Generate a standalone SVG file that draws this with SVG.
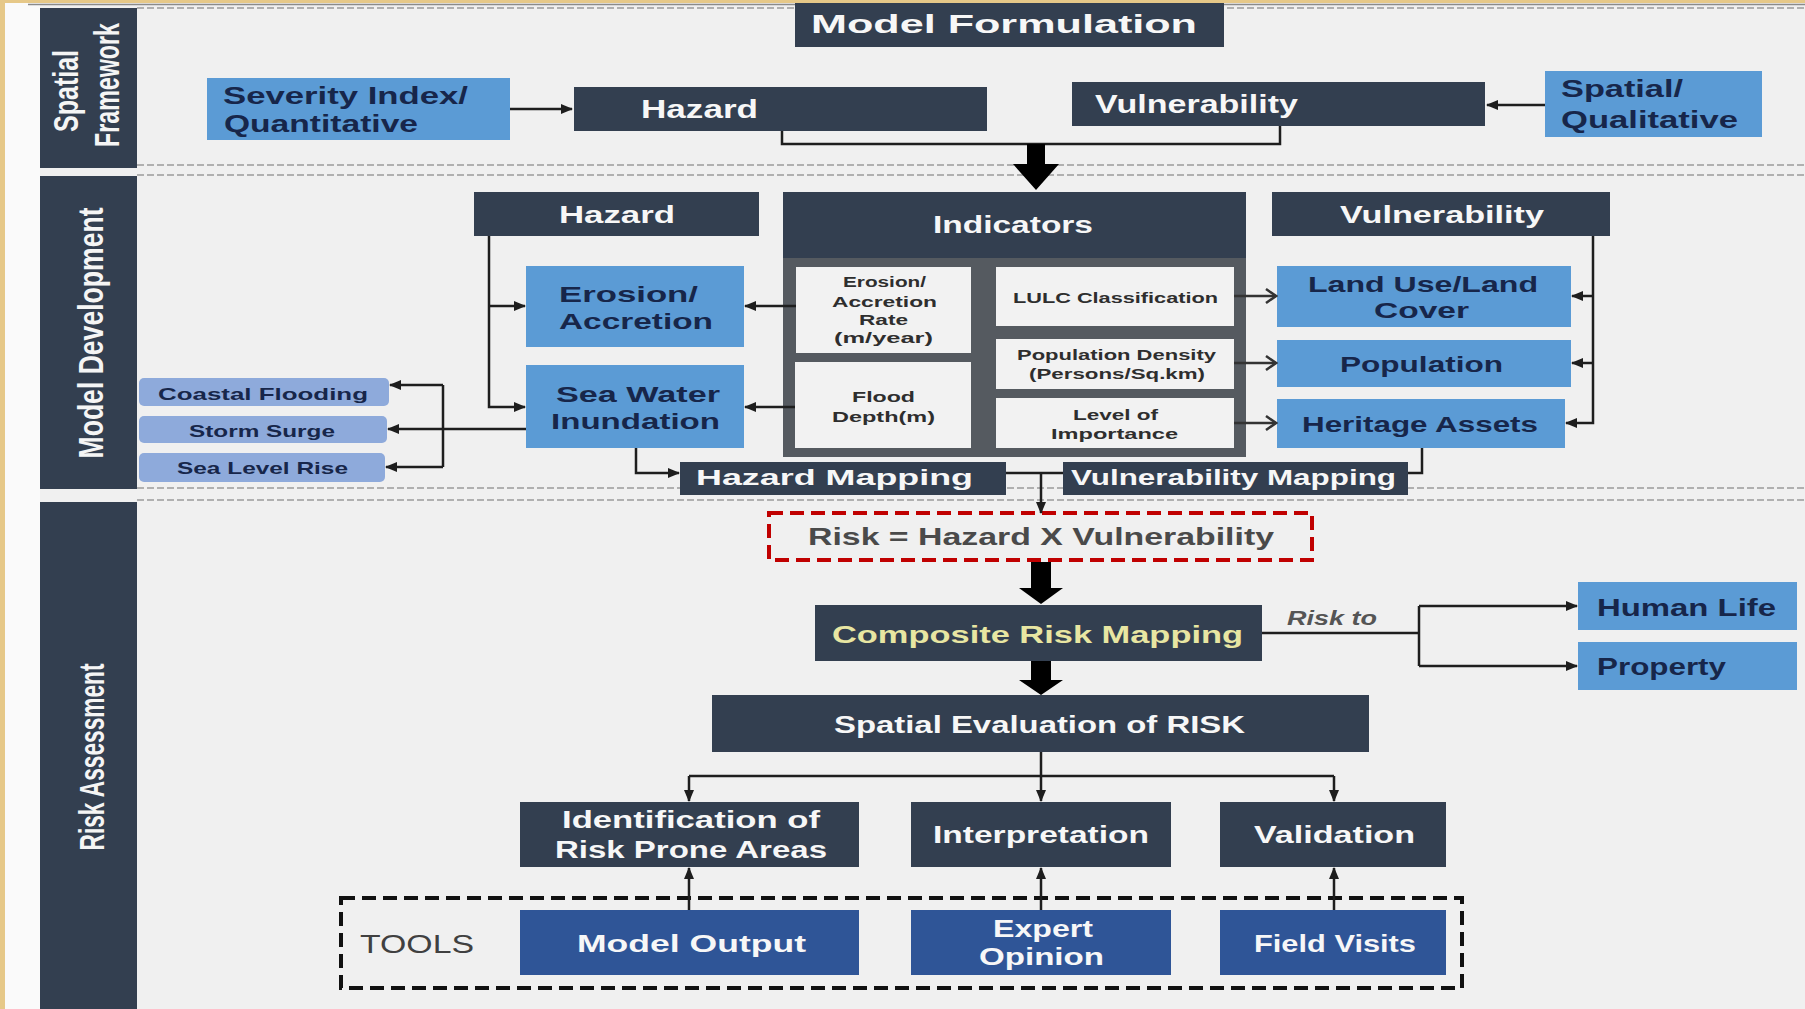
<svg xmlns="http://www.w3.org/2000/svg" width="1805" height="1009" viewBox="0 0 1805 1009">
<defs>
<style>
text{font-family:"Liberation Sans",Arial,sans-serif;font-weight:bold}
.dk{fill:#333f50}
.lb{fill:#5b9bd5}
.pw{fill:#8eaadb}
.tb{fill:#2f5597}
.cell{fill:#f2f2f2}
.w{fill:#f7f7f7}
.nv{fill:#17264a}
.gt{fill:#2e2e2e}
.sep{stroke:#9a9a9a;stroke-width:1.5;stroke-dasharray:7 3;fill:none}
.ln{stroke:#1e1e1e;stroke-width:2.5;fill:none}
.ar{stroke:#1e1e1e;stroke-width:2.5;fill:none;marker-end:url(#ah)}
.oa{stroke:#333;stroke-width:2.5;fill:none;marker-end:url(#oh)}
</style>
<marker id="ah" markerUnits="userSpaceOnUse" markerWidth="12" markerHeight="10" refX="11" refY="5" orient="auto">
<path d="M0,0 L12,5 L0,10 z" fill="#1e1e1e"/>
</marker>
<marker id="oh" markerUnits="userSpaceOnUse" markerWidth="14" markerHeight="16" refX="12" refY="8" orient="auto">
<path d="M2,1 L12,8 L2,15" fill="none" stroke="#333" stroke-width="2.5"/>
</marker>
</defs>

<rect x="0" y="0" width="1805" height="1009" fill="#f0f0f0"/>
<rect x="0" y="0" width="40" height="1009" fill="#fafafa"/>
<rect x="0" y="0" width="5" height="1009" fill="#e6c888"/>
<rect x="0" y="0" width="1805" height="3" fill="#e6c888"/>
<line x1="28" y1="4.5" x2="1805" y2="4.5" stroke="#8a8a8a" stroke-width="1.5"/>

<g id="separators">
<line class="sep" x1="137" y1="8" x2="1805" y2="8"/>
<line class="sep" x1="137" y1="165" x2="1805" y2="165"/>
<line class="sep" x1="137" y1="175" x2="1805" y2="175"/>
<line class="sep" x1="137" y1="488" x2="1805" y2="488"/>
<line class="sep" x1="137" y1="500" x2="1805" y2="500"/>
</g>

<g id="sidebar-spatial-framework">
<rect class="dk" x="40" y="8" width="97" height="160"/>
<text transform="translate(78,91) scale(1.5,1) rotate(-90)" font-size="23" fill="#f5f5f5" text-anchor="middle" textLength="82" lengthAdjust="spacingAndGlyphs">Spatial</text>
<text transform="translate(119,85) scale(1.5,1) rotate(-90)" font-size="23" fill="#f5f5f5" text-anchor="middle" textLength="124" lengthAdjust="spacingAndGlyphs">Framework</text>
</g>
<g id="sidebar-model-development">
<rect class="dk" x="40" y="176" width="97" height="313"/>
<text transform="translate(103,333) scale(1.5,1) rotate(-90)" font-size="24" fill="#f5f5f5" text-anchor="middle" textLength="251" lengthAdjust="spacingAndGlyphs">Model  Development</text>
</g>
<g id="sidebar-risk-assessment">
<rect class="dk" x="40" y="502" width="97" height="507"/>
<text transform="translate(104,757) scale(1.5,1) rotate(-90)" font-size="23" fill="#f5f5f5" text-anchor="middle" textLength="187" lengthAdjust="spacingAndGlyphs">Risk Assessment</text>
</g>

<g id="model-formulation">
<rect class="dk" x="795" y="3" width="429" height="44"/>
<text class="w" x="811" y="33" font-size="25" textLength="386" lengthAdjust="spacingAndGlyphs">Model Formulation</text>
</g>

<g id="severity-index">
<rect class="lb" x="207" y="78" width="303" height="62"/>
<text class="nv" x="223" y="104" font-size="24" textLength="245" lengthAdjust="spacingAndGlyphs">Severity Index/</text>
<text class="nv" x="224" y="132" font-size="24" textLength="194" lengthAdjust="spacingAndGlyphs">Quantitative</text>
</g>
<g id="hazard-top">
<rect class="dk" x="574" y="87" width="413" height="44"/>
<text class="w" x="641" y="118" font-size="25" textLength="117" lengthAdjust="spacingAndGlyphs">Hazard</text>
</g>
<g id="vulnerability-top">
<rect class="dk" x="1072" y="82" width="413" height="44"/>
<text class="w" x="1095" y="113" font-size="25" textLength="203" lengthAdjust="spacingAndGlyphs">Vulnerability</text>
</g>
<g id="spatial-qualitative">
<rect class="lb" x="1545" y="71" width="217" height="66"/>
<text class="nv" x="1561" y="97" font-size="24" textLength="122" lengthAdjust="spacingAndGlyphs">Spatial/</text>
<text class="nv" x="1561" y="128" font-size="24" textLength="177" lengthAdjust="spacingAndGlyphs">Qualitative</text>
</g>

<g id="hazard-header">
<rect class="dk" x="474" y="192" width="285" height="44"/>
<text class="w" x="559" y="223" font-size="23" textLength="116" lengthAdjust="spacingAndGlyphs">Hazard</text>
</g>
<g id="indicators">
<rect fill="#555a60" x="783" y="192" width="463" height="265"/>
<rect class="dk" x="783" y="192" width="463" height="66"/>
<text class="w" x="933" y="233" font-size="23" textLength="160" lengthAdjust="spacingAndGlyphs">Indicators</text>
<rect class="cell" x="796" y="267" width="175" height="86"/>
<text class="gt" x="843" y="287" font-size="14" textLength="83" lengthAdjust="spacingAndGlyphs">Erosion/</text>
<text class="gt" x="832" y="307" font-size="15" textLength="105" lengthAdjust="spacingAndGlyphs">Accretion</text>
<text class="gt" x="859" y="325" font-size="15" textLength="49" lengthAdjust="spacingAndGlyphs">Rate</text>
<text class="gt" x="834" y="343" font-size="15" textLength="99" lengthAdjust="spacingAndGlyphs">(m/year)</text>
<rect class="cell" x="795" y="362" width="176" height="86"/>
<text class="gt" x="852" y="402" font-size="15" textLength="63" lengthAdjust="spacingAndGlyphs">Flood</text>
<text class="gt" x="832" y="422" font-size="15" textLength="103" lengthAdjust="spacingAndGlyphs">Depth(m)</text>
<rect class="cell" x="996" y="267" width="238" height="59"/>
<text class="gt" x="1013" y="303" font-size="15" textLength="205" lengthAdjust="spacingAndGlyphs">LULC Classification</text>
<rect class="cell" x="996" y="339" width="238" height="50"/>
<text class="gt" x="1017" y="360" font-size="15" textLength="199" lengthAdjust="spacingAndGlyphs">Population Density</text>
<text class="gt" x="1029" y="379" font-size="15" textLength="176" lengthAdjust="spacingAndGlyphs">(Persons/Sq.km)</text>
<rect class="cell" x="996" y="398" width="238" height="50"/>
<text class="gt" x="1073" y="420" font-size="15" textLength="85" lengthAdjust="spacingAndGlyphs">Level of</text>
<text class="gt" x="1051" y="439" font-size="15" textLength="127" lengthAdjust="spacingAndGlyphs">Importance</text>
</g>
<g id="vulnerability-header">
<rect class="dk" x="1272" y="192" width="338" height="44"/>
<text class="w" x="1340" y="223" font-size="23" textLength="204" lengthAdjust="spacingAndGlyphs">Vulnerability</text>
</g>

<g id="erosion-accretion">
<rect class="lb" x="526" y="266" width="218" height="81"/>
<text class="nv" x="559" y="302" font-size="22" textLength="139" lengthAdjust="spacingAndGlyphs">Erosion/</text>
<text class="nv" x="559" y="329" font-size="22" textLength="154" lengthAdjust="spacingAndGlyphs">Accretion</text>
</g>
<g id="sea-water-inundation">
<rect class="lb" x="526" y="365" width="218" height="83"/>
<text class="nv" x="556" y="402" font-size="22" textLength="164" lengthAdjust="spacingAndGlyphs">Sea Water</text>
<text class="nv" x="551" y="429" font-size="22" textLength="169" lengthAdjust="spacingAndGlyphs">Inundation</text>
</g>
<g id="coastal-flooding">
<rect class="pw" x="139" y="378" width="250" height="28" rx="5"/>
<text class="nv" x="158" y="400" font-size="17" textLength="210" lengthAdjust="spacingAndGlyphs">Coastal Flooding</text>
</g>
<g id="storm-surge">
<rect class="pw" x="139" y="416" width="248" height="27" rx="5"/>
<text class="nv" x="189" y="437" font-size="17" textLength="146" lengthAdjust="spacingAndGlyphs">Storm Surge</text>
</g>
<g id="sea-level-rise">
<rect class="pw" x="139" y="453" width="246" height="29" rx="5"/>
<text class="nv" x="177" y="474" font-size="17" textLength="171" lengthAdjust="spacingAndGlyphs">Sea Level Rise</text>
</g>

<g id="land-use">
<rect class="lb" x="1277" y="266" width="294" height="61"/>
<text class="nv" x="1308" y="292" font-size="22" textLength="230" lengthAdjust="spacingAndGlyphs">Land Use/Land</text>
<text class="nv" x="1374" y="318" font-size="22" textLength="95" lengthAdjust="spacingAndGlyphs">Cover</text>
</g>
<g id="population">
<rect class="lb" x="1277" y="340" width="294" height="47"/>
<text class="nv" x="1340" y="372" font-size="22" textLength="163" lengthAdjust="spacingAndGlyphs">Population</text>
</g>
<g id="heritage-assets">
<rect class="lb" x="1277" y="399" width="288" height="49"/>
<text class="nv" x="1302" y="432" font-size="22" textLength="236" lengthAdjust="spacingAndGlyphs">Heritage Assets</text>
</g>

<g id="hazard-mapping">
<rect class="dk" x="680" y="462" width="326" height="33"/>
<text class="w" x="696" y="485" font-size="22" textLength="277" lengthAdjust="spacingAndGlyphs">Hazard Mapping</text>
</g>
<g id="vulnerability-mapping">
<rect class="dk" x="1063" y="462" width="345" height="33"/>
<text class="w" x="1071" y="485" font-size="22" textLength="325" lengthAdjust="spacingAndGlyphs">Vulnerability Mapping</text>
</g>

<g id="risk-formula">
<rect x="769" y="513" width="543" height="47" fill="none" stroke="#c00000" stroke-width="4" stroke-dasharray="14 7"/>
<text x="808" y="545" font-size="24" fill="#4a4a4a" textLength="466" lengthAdjust="spacingAndGlyphs">Risk = Hazard X Vulnerability</text>
</g>
<g id="composite-risk-mapping">
<rect class="dk" x="815" y="605" width="447" height="56"/>
<text x="832" y="643" font-size="24" fill="#e8e6a2" textLength="411" lengthAdjust="spacingAndGlyphs">Composite  Risk Mapping</text>
</g>
<g id="risk-to-label">
<text x="1287" y="625" font-size="21" font-style="italic" fill="#555" textLength="90" lengthAdjust="spacingAndGlyphs">Risk to</text>
</g>
<g id="human-life">
<rect class="lb" x="1578" y="582" width="219" height="48"/>
<text class="nv" x="1597" y="616" font-size="23" textLength="179" lengthAdjust="spacingAndGlyphs">Human Life</text>
</g>
<g id="property">
<rect class="lb" x="1578" y="642" width="219" height="48"/>
<text class="nv" x="1597" y="675" font-size="23" textLength="129" lengthAdjust="spacingAndGlyphs">Property</text>
</g>
<g id="spatial-evaluation">
<rect class="dk" x="712" y="695" width="657" height="57"/>
<text class="w" x="834" y="733" font-size="23" textLength="411" lengthAdjust="spacingAndGlyphs">Spatial Evaluation of RISK</text>
</g>
<g id="identification">
<rect class="dk" x="520" y="802" width="339" height="65"/>
<text class="w" x="562" y="828" font-size="23" textLength="258" lengthAdjust="spacingAndGlyphs">Identification of</text>
<text class="w" x="555" y="858" font-size="23" textLength="272" lengthAdjust="spacingAndGlyphs">Risk Prone Areas</text>
</g>
<g id="interpretation">
<rect class="dk" x="911" y="802" width="260" height="65"/>
<text class="w" x="933" y="843" font-size="23" textLength="216" lengthAdjust="spacingAndGlyphs">Interpretation</text>
</g>
<g id="validation">
<rect class="dk" x="1220" y="802" width="226" height="65"/>
<text class="w" x="1254" y="843" font-size="23" textLength="161" lengthAdjust="spacingAndGlyphs">Validation</text>
</g>

<g id="tools">
<rect x="341" y="898" width="1121" height="90" fill="none" stroke="#111" stroke-width="4" stroke-dasharray="14 7"/>
<text x="360" y="953" font-size="26" fill="#404040" textLength="114" lengthAdjust="spacingAndGlyphs" style="font-weight:normal">TOOLS</text>
</g>
<g id="model-output">
<rect class="tb" x="520" y="910" width="339" height="65"/>
<text class="w" x="577" y="952" font-size="23" textLength="229" lengthAdjust="spacingAndGlyphs">Model Output</text>
</g>
<g id="expert-opinion">
<rect class="tb" x="911" y="910" width="260" height="65"/>
<text class="w" x="993" y="937" font-size="23" textLength="100" lengthAdjust="spacingAndGlyphs">Expert</text>
<text class="w" x="979" y="965" font-size="23" textLength="125" lengthAdjust="spacingAndGlyphs">Opinion</text>
</g>
<g id="field-visits">
<rect class="tb" x="1220" y="910" width="226" height="65"/>
<text class="w" x="1254" y="952" font-size="23" textLength="162" lengthAdjust="spacingAndGlyphs">Field Visits</text>
</g>

<g id="connectors">
<path class="ar" d="M510,109 H572"/>
<path class="ar" d="M1545,105 H1487"/>
<path class="ln" d="M782,131 V144 H1280 V126"/>
<polygon points="1027,144 1045,144 1045,164 1059,164 1036,190 1013,164 1027,164" fill="#000"/>
<path class="ar" d="M489,236 V407 H525"/>
<path class="ar" d="M489,306 H525"/>
<path class="ar" d="M796,306 H745"/>
<path class="ar" d="M795,407 H745"/>
<path class="ar" d="M526,429 H388"/>
<path class="ln" d="M443,385 V467"/>
<path class="ar" d="M443,385 H390"/>
<path class="ar" d="M443,467 H386"/>
<path class="oa" d="M1234,296 H1276"/>
<path class="oa" d="M1234,363 H1276"/>
<path class="oa" d="M1234,423 H1276"/>
<path class="ar" d="M1593,236 V423 H1566"/>
<path class="ar" d="M1593,296 H1572"/>
<path class="ar" d="M1593,363 H1572"/>
<path class="ar" d="M636,448 V473 H679"/>
<path class="ln" d="M1422,448 V473 H1408"/>
<path class="ln" d="M1006,473 H1063"/>
<path class="ar" d="M1041,473 V513"/>
<polygon points="1031,562 1051,562 1051,588 1063,588 1041,604 1019,588 1031,588" fill="#000"/>
<polygon points="1031,661 1051,661 1051,680 1063,680 1041,695 1019,680 1031,680" fill="#000"/>
<path class="ln" d="M1262,633 H1419"/>
<path class="ln" d="M1419,606 V666"/>
<path class="ar" d="M1419,606 H1577"/>
<path class="ar" d="M1419,666 H1577"/>
<path class="ar" d="M1041,752 V801"/>
<path class="ln" d="M689,776 H1334"/>
<path class="ar" d="M689,776 V801"/>
<path class="ar" d="M1334,776 V801"/>
<path class="ar" d="M689,910 V868"/>
<path class="ar" d="M1041,910 V868"/>
<path class="ar" d="M1334,910 V868"/>
</g>
</svg>
